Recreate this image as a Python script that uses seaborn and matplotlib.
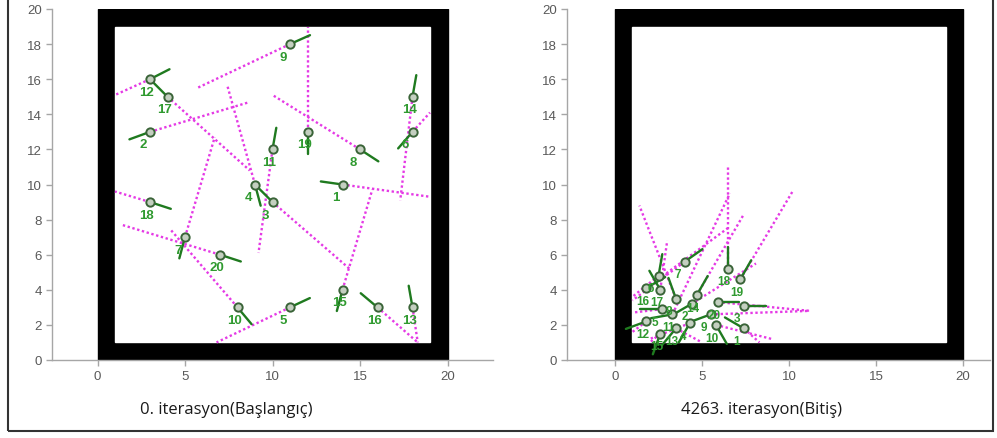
import numpy as np
import pandas as pd
import matplotlib
matplotlib.use("Agg")
import matplotlib.pyplot as plt
from matplotlib.patches import Rectangle
import seaborn as sns

# --- robot data, start (iteration 0) ---
start_id = list(range(1, 21))
start_x = [14, 3, 10, 9, 11, 18, 5, 15, 11, 8, 10, 3, 18, 18, 14, 16, 4, 3, 12, 7]
start_y = [10, 13, 9, 10, 3, 13, 7, 12, 18, 3, 12, 16, 3, 15, 4, 3, 15, 9, 13, 6]
start_heading = [172, 200, 135, -75, 25, 229, -105, -33, 24, -50,
                 80, 27, 100, 80, -105, 140, 135, -18, -90, -18]
start_ray_x = [19.0, 8.7, 14.4, 7.4, 6.8, 19.0, 6.7, 10.0, 5.7, 4.2,
               9.2, 1.0, 18.3, 17.3, 15.7, 18.3, 8.7, 1.0, 12.0, 1.4]
start_ray_y = [9.3, 14.7, 5.2, 15.7, 1.0, 14.1, 12.7, 15.1, 15.5, 7.4,
               6.1, 15.1, 1.0, 9.1, 9.7, 1.0, 10.8, 9.6, 19.0, 7.7]

# --- robot data, end (iteration 4263) ---
end_id = list(range(1, 21))
end_x = [7.4, 4.4, 7.4, 4.3, 2.7, 2.5, 4.0, 3.5, 5.5, 5.8,
         3.3, 1.8, 3.5, 4.7, 2.6, 1.8, 2.6, 6.5, 7.2, 5.9]
end_y = [1.8, 3.2, 3.1, 2.1, 2.9, 4.8, 5.6, 3.5, 2.6, 2.0,
         2.6, 2.2, 1.8, 3.7, 1.5, 4.1, 4.0, 5.2, 4.6, 3.3]
end_heading = [150, 210, 0, 240, 180, 80, 35, 110, 200, 300,
               190, 200, 230, 60, 250, 30, 120, 90, 60, 0]
end_ray_x = [8.3, 8.1, 8.7, 2.0, 1.0, 1.0, 1.0, 1.4, 11.2, 9.0,
             6.6, 1.0, 5.0, 7.4, 2.0, 6.6, 3.0, 6.5, 10.2, 11.2]
end_ray_y = [1.0, 5.5, 3.1, 1.2, 2.7, 3.6, 3.4, 8.8, 2.8, 1.2,
             9.5, 1.6, 1.0, 8.3, 1.0, 7.6, 6.8, 11.1, 9.6, 2.8]

panel_titles = ["0. iterasyon(Başlangıç)", "4263. iterasyon(Bitiş)"]

ARENA = 20
WALL = 1
HEAD_LEN = 1.25

sns.set_style("ticks")
plt.rcParams["font.family"] = ["Liberation Sans", "DejaVu Sans"]

fig = plt.figure(figsize=(9.97, 4.39), dpi=100)
W, H = 997, 439


def px_axes(left, right, top, bottom):
    return fig.add_axes([left / W, 1 - bottom / H, (right - left) / W, (bottom - top) / H])


def draw_panel(ax, df, xlim, label_size):
    # arena walls
    ax.add_patch(Rectangle((0, 0), ARENA, ARENA, color="black", zorder=1))
    ax.add_patch(Rectangle((WALL, WALL), ARENA - 2 * WALL, ARENA - 2 * WALL,
                           color="white", zorder=1.1))
    # rays
    for _, r in df.iterrows():
        ax.plot([r.x, r.rx], [r.y, r.ry], color="#e53ae5", lw=1.7,
                linestyle=(0, (1, 1.1)), zorder=2)
    # headings
    rad = np.deg2rad(df["heading"])
    hx = df["x"] + HEAD_LEN * np.cos(rad)
    hy = df["y"] + HEAD_LEN * np.sin(rad)
    for x0, y0, x1, y1 in zip(df["x"], df["y"], hx, hy):
        ax.plot([x0, x1], [y0, y1], color="#1f7a1f", lw=1.7, zorder=3)
    sns.scatterplot(data=df, x="x", y="y", ax=ax, s=36, facecolor="#c4cfc0",
                    edgecolor="#3a6438", linewidth=1.4, zorder=4, legend=False)
    for _, r in df.iterrows():
        ax.text(r.x - 0.6, r.y - 0.72, str(int(r.id)), color="#2f9a2f",
                fontsize=label_size, fontweight="bold", ha="left", va="center", zorder=5)

    ax.set_xlim(*xlim)
    ax.set_ylim(0, 20)
    ax.set_xticks([0, 5, 10, 15, 20])
    ax.set_yticks(range(0, 21, 2))
    ax.set_xlabel("")
    ax.set_ylabel("")
    for s in ["top", "right"]:
        ax.spines[s].set_visible(False)
    for s in ["left", "bottom"]:
        ax.spines[s].set_color("#a6a6a6")
        ax.spines[s].set_linewidth(1.0)
    ax.tick_params(colors="#a6a6a6", labelcolor="#595959", labelsize=9.5,
                   length=4, width=1.0)
    ax.spines["left"].set_bounds(0, 20)


start_df = pd.DataFrame({"id": start_id, "x": start_x, "y": start_y,
                         "heading": start_heading, "rx": start_ray_x, "ry": start_ray_y})
end_df = pd.DataFrame({"id": end_id, "x": end_x, "y": end_y,
                       "heading": end_heading, "rx": end_ray_x, "ry": end_ray_y})

ax1 = px_axes(52, 493, 10, 361)
draw_panel(ax1, start_df, (-2.6, 22.6), 9.5)
ax2 = px_axes(567, 990, 10, 361)
draw_panel(ax2, end_df, (-2.76, 21.55), 8.5)

fig.text(226 / W, 1 - 410 / H, panel_titles[0], ha="center", va="center",
         fontsize=12, color="#1a1a1a", family=["Open Sans", "DejaVu Sans"])
fig.text(761 / W, 1 - 410 / H, panel_titles[1], ha="center", va="center",
         fontsize=12, color="#1a1a1a", family=["Open Sans", "DejaVu Sans"])

# outer frame
fig.patches.append(Rectangle((8 / W, 7 / H), (993 - 8) / W, 1.2, transform=fig.transFigure,
                             fill=False, edgecolor="#333333", lw=1.5))

fig.savefig("out.png", dpi=100)
